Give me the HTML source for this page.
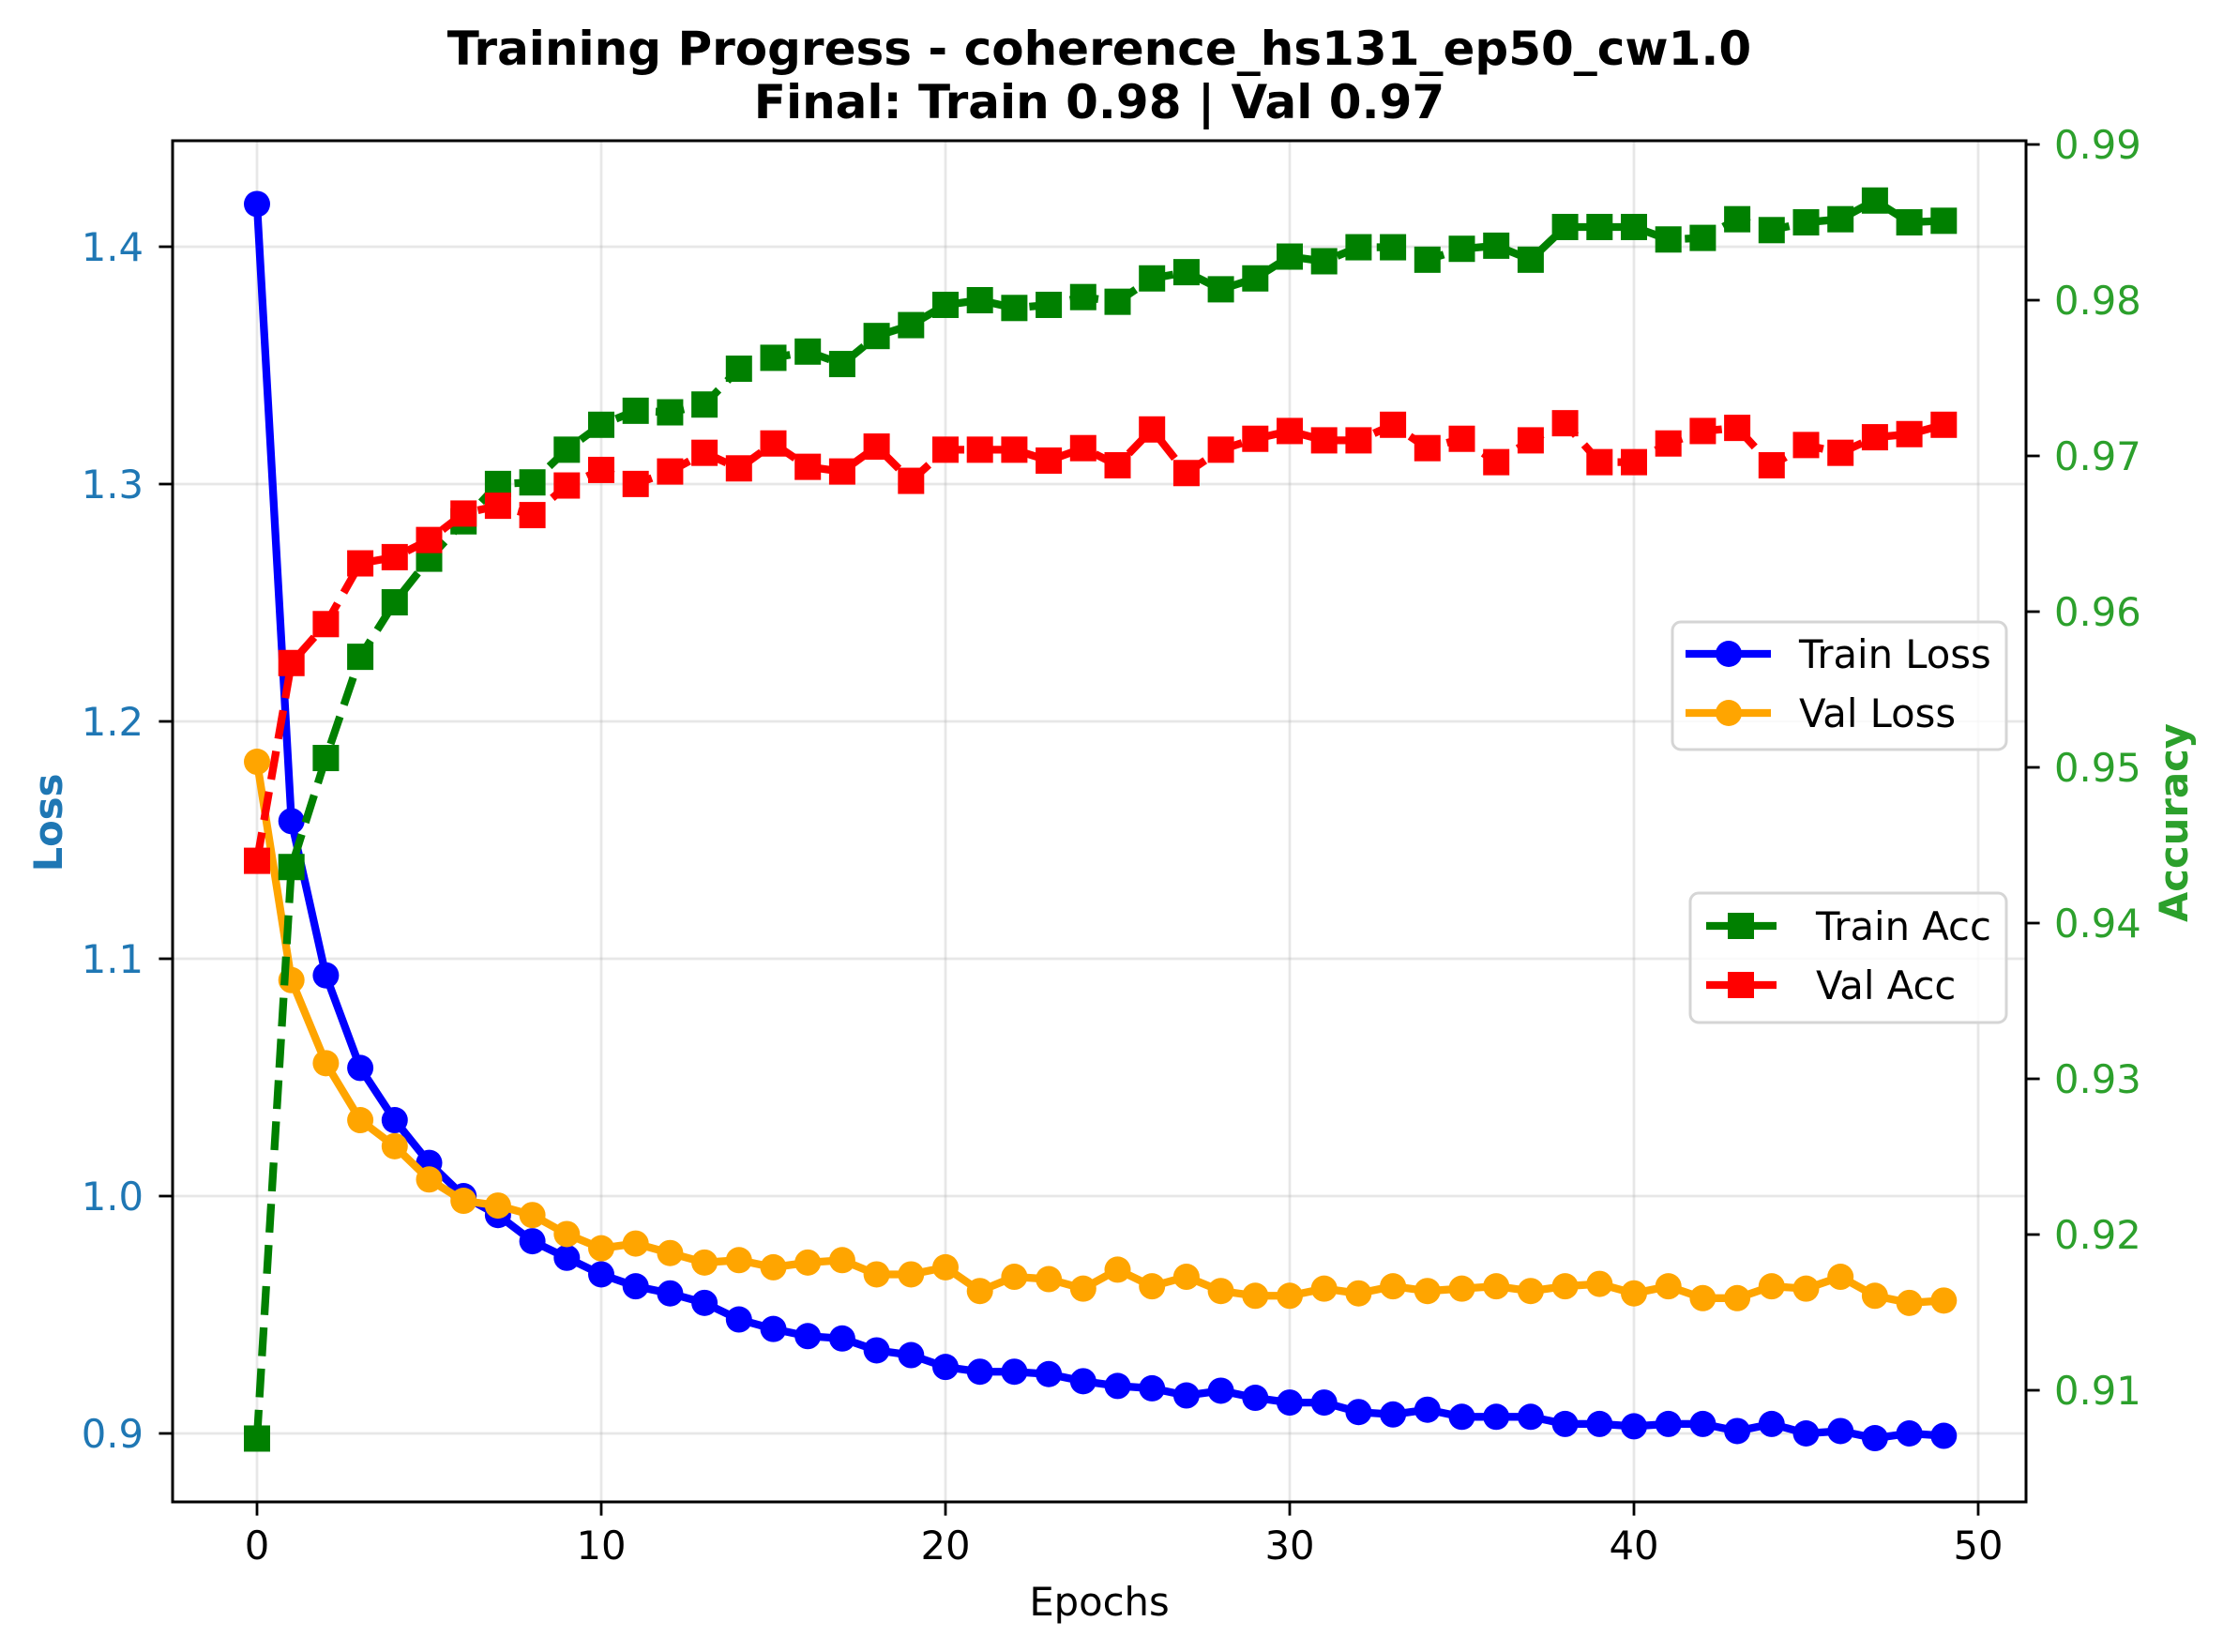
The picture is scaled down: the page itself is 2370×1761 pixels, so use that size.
<!DOCTYPE html>
<html><head><meta charset="utf-8"><style>
html,body{margin:0;padding:0;background:#fff;}
svg{display:block;font-family:"DejaVu Sans","Liberation Sans",sans-serif;}
</style></head><body>
<svg id="chart" width="2370" height="1761" viewBox="0 0 2370 1761" xmlns="http://www.w3.org/2000/svg">
<rect x="0" y="0" width="2370" height="1761" fill="#fff"/>
<g id="grid"></g>
<g id="lossSeries"></g>
<g id="accSeries"></g>
<g id="axes"></g>
<text x="1172" y="69" text-anchor="middle" font-weight="bold" font-size="50">Training Progress - coherence_hs131_ep50_cw1.0</text>
<text x="1172" y="126" text-anchor="middle" font-weight="bold" font-size="50">Final: Train 0.98 | Val 0.97</text>
<text x="1172" y="1722" text-anchor="middle" font-size="41.7">Epochs</text>
<text transform="translate(66,877) rotate(-90)" text-anchor="middle" font-weight="bold" font-size="41.7" fill="#1f77b4">Loss</text>
<text transform="translate(2332,877) rotate(-90)" text-anchor="middle" font-weight="bold" font-size="41.7" fill="#2ca02c">Accuracy</text>
<g id="legend1">
<rect x="1783" y="663" width="356" height="136" rx="9" fill="#fff" fill-opacity="0.8" stroke="#d5d5d5" stroke-width="3"/>
<line x1="1797" y1="697" x2="1888" y2="697" stroke="#0000ff" stroke-width="8.3"/>
<circle cx="1843" cy="697" r="14" fill="#0000ff"/>
<text x="1918" y="712" font-size="41.7">Train Loss</text>
<line x1="1797" y1="760" x2="1888" y2="760" stroke="#ffa500" stroke-width="8.3"/>
<circle cx="1843" cy="760" r="14" fill="#ffa500"/>
<text x="1918" y="775" font-size="41.7">Val Loss</text>
</g>
<g id="legend2">
<rect x="1802" y="952" width="337" height="138" rx="9" fill="#fff" fill-opacity="0.8" stroke="#d5d5d5" stroke-width="3"/>
<line x1="1819" y1="987" x2="1894" y2="987" stroke="#008000" stroke-width="8.3"/>
<rect x="1842" y="973" width="28" height="28" fill="#008000"/>
<text x="1936" y="1002" font-size="41.7">Train Acc</text>
<line x1="1819" y1="1050" x2="1894" y2="1050" stroke="#ff0000" stroke-width="8.3"/>
<rect x="1842" y="1036" width="28" height="28" fill="#ff0000"/>
<text x="1936" y="1065" font-size="41.7">Val Acc</text>
</g>
</svg>
<script>
const epochs = Array.from({length:50},(_,i)=>i);
const trainLoss = [1.418,1.158,1.093,1.054,1.032,1.014,1.000,0.992,0.981,0.974,0.967,0.962,0.959,0.955,0.948,0.944,0.941,0.940,0.935,0.933,0.928,0.926,0.926,0.925,0.922,0.920,0.919,0.916,0.918,0.915,0.913,0.913,0.909,0.908,0.910,0.907,0.907,0.907,0.904,0.904,0.903,0.904,0.904,0.901,0.904,0.900,0.901,0.898,0.900,0.899];
const valLoss = [1.183,1.091,1.056,1.032,1.021,1.007,0.998,0.996,0.992,0.984,0.978,0.980,0.976,0.972,0.973,0.970,0.972,0.973,0.967,0.967,0.970,0.960,0.966,0.965,0.961,0.969,0.962,0.966,0.960,0.958,0.958,0.961,0.959,0.962,0.960,0.961,0.962,0.960,0.962,0.963,0.959,0.962,0.957,0.957,0.962,0.961,0.966,0.958,0.955,0.956];
const trainAcc = [0.9069,0.9436,0.9506,0.9571,0.9606,0.9634,0.9658,0.9682,0.9683,0.9704,0.9720,0.9729,0.9728,0.9733,0.9756,0.9763,0.9767,0.9759,0.9777,0.9784,0.9797,0.9800,0.9795,0.9797,0.9802,0.9799,0.9814,0.9818,0.9807,0.9814,0.9828,0.9825,0.9834,0.9834,0.9826,0.9833,0.9835,0.9826,0.9847,0.9847,0.9847,0.9839,0.9840,0.9852,0.9845,0.9850,0.9852,0.9864,0.9850,0.9851];
const valAcc = [0.9440,0.9567,0.9592,0.9631,0.9635,0.9646,0.9663,0.9668,0.9662,0.9681,0.9691,0.9682,0.9690,0.9702,0.9692,0.9708,0.9693,0.9690,0.9706,0.9684,0.9704,0.9704,0.9704,0.9697,0.9705,0.9694,0.9717,0.9689,0.9704,0.9711,0.9716,0.9710,0.9710,0.9720,0.9705,0.9711,0.9696,0.9710,0.9721,0.9696,0.9696,0.9708,0.9716,0.9718,0.9694,0.9707,0.9702,0.9712,0.9714,0.9720];
const xTicks = [0,10,20,30,40,50];
const lossTicks = [0.9,1.0,1.1,1.2,1.3,1.4];
const accTicks = [0.91,0.92,0.93,0.94,0.95,0.96,0.97,0.98,0.99];

const L=184,R=2160,T=150,B=1601;
const xs = v => 274 + v*(2109-274)/50;
const yL = v => 263 + (1.4-v)*(1528-263)/0.5;
const yA = v => 154 + (0.99-v)*(1482-154)/0.08;
const NS='http://www.w3.org/2000/svg';
function mk(tag, parent, attrs){const e=document.createElementNS(NS,tag);for(const k in attrs)e.setAttribute(k,attrs[k]);parent.appendChild(e);return e;}
const grid=document.getElementById('grid'), axes=document.getElementById('axes');
const lossG=document.getElementById('lossSeries'), accG=document.getElementById('accSeries');

xTicks.forEach(t=>{
  const g=mk('line',grid,{x1:xs(t),x2:xs(t),y1:T,y2:B,stroke:'#b0b0b0','stroke-opacity':0.3,'stroke-width':2.8});
  
  
  const tk=mk('line',axes,{x1:xs(t),x2:xs(t),y1:B,y2:B+14.6,stroke:'#000','stroke-width':2.8});
  
  
  const tx=mk('text',axes,{x:xs(t),y:1662,'text-anchor':'middle','font-size':41.7});
  tx.textContent=String(t);
  
  
});
lossTicks.forEach(t=>{
  const g=mk('line',grid,{x1:L,x2:R,y1:yL(t),y2:yL(t),stroke:'#b0b0b0','stroke-opacity':0.3,'stroke-width':2.8});
  
  
  const tk=mk('line',axes,{x1:L-14.6,x2:L,y1:yL(t),y2:yL(t),stroke:'#000','stroke-width':2.8});
  
  
  const tx=mk('text',axes,{x:153,y:yL(t)+15,'text-anchor':'end','font-size':41.7,fill:'#1f77b4'});
  tx.textContent=t.toFixed(1);
  
  
});
accTicks.forEach(t=>{
  const tk=mk('line',axes,{x1:R,x2:R+14.6,y1:yA(t),y2:yA(t),stroke:'#000','stroke-width':2.8});
  
  
  const tx=mk('text',axes,{x:2190,y:yA(t)+15,'text-anchor':'start','font-size':41.7,fill:'#2ca02c'});
  tx.textContent=t.toFixed(2);
  
  
});
const frame=mk('rect',axes,{x:L,y:T,width:R-L,height:B-T,fill:'none',stroke:'#000','stroke-width':3});



function series(parent, vals, yf, color, dashed, marker, name){
  const pts=vals.map((v,i)=>xs(epochs[i])+','+yf(v)).join(' ');
  const attrs={points:pts,fill:'none',stroke:color,'stroke-width':8.3,'stroke-linejoin':'round'};
  if(dashed) attrs['stroke-dasharray']='30.7 13.3';
  const pl=mk('polyline',parent,attrs);
  
  
  vals.forEach((v,i)=>{
    let m;
    if(marker==='circle') m=mk('circle',parent,{cx:xs(epochs[i]),cy:yf(v),r:14,fill:color});
    else m=mk('rect',parent,{x:xs(epochs[i])-14,y:yf(v)-14,width:28,height:28,fill:color});
    
    
  });
}
series(lossG,trainLoss,yL,'#0000ff',false,'circle','train-loss');
series(lossG,valLoss,yL,'#ffa500',false,'circle','val-loss');
series(accG,trainAcc,yA,'#008000',true,'square','train-acc');
series(accG,valAcc,yA,'#ff0000',true,'square','val-acc');
</script>
</body></html>
